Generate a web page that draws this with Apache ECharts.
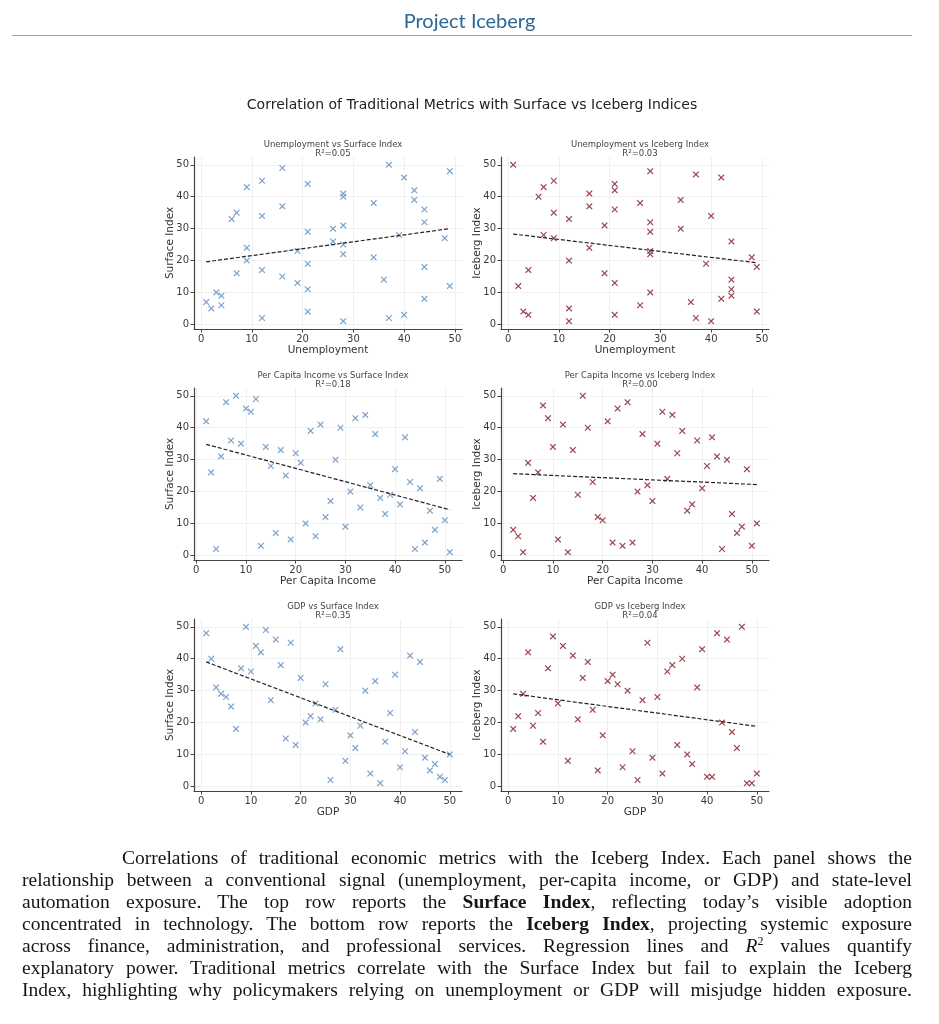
<!DOCTYPE html>
<html>
<head>
<meta charset="utf-8">
<script src="https://cdn.jsdelivr.net/npm/echarts@6/dist/echarts.min.js"></script>
<style>
  html, body { margin: 0; padding: 0; background: #fff; }
  body { width: 939px; height: 1024px; position: relative; overflow: hidden; }
  #chart { position: absolute; left: 0; top: 0; width: 939px; height: 1024px; }
  #header { position: absolute; left: 0; top: 6px; width: 939px; text-align: center;
            font-family: "Lato", "Open Sans", sans-serif; font-size: 20px; color: #2c6795; line-height: 28px; }
  #rule { position: absolute; left: 12px; top: 35px; width: 900px; height: 0; border-top: 1.5px solid #8ea3b6; }
  #caption { position: absolute; left: 22px; top: 847px; width: 890px;
             font-family: "Liberation Serif", "Times New Roman", serif; font-size: 19.5px; line-height: 22px; color: #151515; }
  #caption div { text-align: justify; text-align-last: justify; white-space: nowrap; height: 22px; }
  #caption div.indent { padding-left: 100px; }
  #caption sup { font-size: 12px; line-height: 0; vertical-align: 7px; }
</style>
</head>
<body>
<div id="chart"></div>
<div id="header">Project Iceberg</div>
<div id="rule"></div>
<div id="caption">
  <div class="indent">Correlations of traditional economic metrics with the Iceberg Index. Each panel shows the</div>
  <div>relationship between a conventional signal (unemployment, per-capita income, or GDP) and state-level</div>
  <div>automation exposure. The top row reports the <b>Surface Index</b>, reflecting today’s visible adoption</div>
  <div>concentrated in technology. The bottom row reports the <b>Iceberg Index</b>, projecting systemic exposure</div>
  <div>across finance, administration, and professional services. Regression lines and <i>R</i><sup>2</sup> values quantify</div>
  <div>explanatory power. Traditional metrics correlate with the Surface Index but fail to explain the Iceberg</div>
  <div>Index, highlighting why policymakers relying on unemployment or GDP will misjudge hidden exposure.</div>
</div>
<script>
// ---------------- DATA ----------------
const mainTitle = 'Correlation of Traditional Metrics with Surface vs Iceberg Indices';
const tickValues = [0, 10, 20, 30, 40, 50];

const unemploymentX = [1,2,3,4,4,6,7,7,9,9,9,12,12,12,12,16,16,16,19,19,21,21,21,21,21,26,26,28,28,28,28,28,28,34,34,36,37,37,39,40,40,42,42,44,44,44,44,48,49,49];
const unemploymentSurface = [7,5,10,9,6,33,35,16,43,24,20,45,34,17,2,49,37,15,23,13,44,29,19,11,4,30,26,41,40,31,25,22,1,38,21,14,50,2,28,46,3,42,39,36,32,18,8,27,48,12];
const unemploymentIceberg = [50,12,4,3,17,40,43,28,45,35,27,33,20,5,1,41,37,24,31,16,44,42,36,13,3,38,6,48,32,29,23,22,10,39,30,7,47,2,19,34,1,46,8,26,14,11,9,21,18,4];

const incomeX = [2,3,4,5,6,7,8,9,10,11,12,13,14,15,16,17,18,19,20,21,22,23,24,25,26,27,28,29,30,31,32,33,34,35,36,37,38,39,40,41,42,43,44,45,46,47,48,49,50,51];
const incomeSurface = [42,26,2,31,48,36,50,35,46,45,49,3,34,28,7,33,25,5,32,29,10,39,6,41,12,17,30,40,9,20,43,15,44,22,38,18,13,19,27,16,37,23,2,21,4,14,8,24,11,1];
const incomeIceberg = [8,6,1,29,18,26,47,43,34,5,41,1,33,19,50,40,23,12,11,42,4,46,3,48,4,20,38,22,17,35,45,24,44,32,39,14,16,36,21,28,37,31,2,30,13,7,9,27,3,10];

const gdpX = [1,2,3,4,5,6,7,8,9,10,11,12,13,14,15,16,17,18,19,20,21,22,23,24,25,26,27,28,29,30,31,32,33,34,35,36,37,38,39,40,41,42,43,44,45,46,47,48,49,50];
const gdpSurface = [48,40,31,29,28,25,18,37,50,36,44,42,49,27,46,38,15,45,13,34,20,22,26,21,32,2,24,43,8,16,12,19,30,4,33,1,14,23,35,6,11,41,17,39,9,5,7,3,2,10];
const gdpIceberg = [18,22,29,42,19,23,14,37,47,26,44,8,41,21,34,39,24,5,16,33,35,32,6,30,11,2,27,45,9,28,4,36,38,13,40,10,7,31,43,3,3,48,20,46,17,12,50,1,1,4];

// regression line end points
const trendUnempSurface = [[1, 19.6], [49, 30.0]];
const trendUnempIceberg = [[1, 28.3], [49, 19.3]];
const trendIncomeSurface = [[2, 34.8], [51, 14.3]];
const trendIncomeIceberg = [[2, 25.6], [51, 22.2]];
const trendGdpSurface = [[1, 39.0], [50, 10.0]];
const trendGdpIceberg = [[1, 29.0], [50, 18.8]];

const panelTitles = ['Unemployment vs Surface Index', 'Unemployment vs Iceberg Index',
                     'Per Capita Income vs Surface Index', 'Per Capita Income vs Iceberg Index',
                     'GDP vs Surface Index', 'GDP vs Iceberg Index'];
const rSquared = ['R²=0.05', 'R²=0.03', 'R²=0.18', 'R²=0.00', 'R²=0.35', 'R²=0.04'];
const xNames = ['Unemployment', 'Unemployment', 'Per Capita Income', 'Per Capita Income', 'GDP', 'GDP'];
const yNames = ['Surface Index', 'Iceberg Index', 'Surface Index', 'Iceberg Index', 'Surface Index', 'Iceberg Index'];

// ---------------- LAYOUT / STYLE ----------------
const panels = [
  { xs: unemploymentX, ys: unemploymentSurface, trend: trendUnempSurface, xr: [-1.4, 51.4], color: '#769cc6' },
  { xs: unemploymentX, ys: unemploymentIceberg, trend: trendUnempIceberg, xr: [-1.4, 51.4], color: '#983c48' },
  { xs: incomeX, ys: incomeSurface, trend: trendIncomeSurface, xr: [-0.45, 53.45], color: '#769cc6' },
  { xs: incomeX, ys: incomeIceberg, trend: trendIncomeIceberg, xr: [-0.45, 53.45], color: '#983c48' },
  { xs: gdpX, ys: gdpSurface, trend: trendGdpSurface, xr: [-1.45, 52.45], color: '#769cc6' },
  { xs: gdpX, ys: gdpIceberg, trend: trendGdpIceberg, xr: [-1.45, 52.45], color: '#983c48' }
];
const colLeft = [194, 501];
const colWidth = 268;
const rowTop = [157, 388, 619];
const rowHeight = 172;
const yRange = [-1.45, 52.45];
const FONT = '"DejaVu Sans", sans-serif';
const XMARK = 'path://M0,1.3L1.3,0L5,3.7L8.7,0L10,1.3L6.3,5L10,8.7L8.7,10L5,6.3L1.3,10L0,8.7L3.7,5Z';

const grids = [], xAxes = [], yAxes = [], series = [], titles = [];
titles.push({ text: mainTitle, left: 467, top: 93, textAlign: 'center',
  textStyle: { fontFamily: FONT, fontSize: 14, fontWeight: 'normal', color: '#222' } });

panels.forEach((p, i) => {
  const row = Math.floor(i / 2), col = i % 2;
  const left = colLeft[col], top = rowTop[row];
  grids.push({ left: left, top: top, width: colWidth, height: rowHeight, containLabel: false });
  const axisCommon = {
    axisLine: { show: true, onZero: false, lineStyle: { color: '#444', width: 1.2 } },
    axisTick: { show: true, inside: false, length: 3.5, customValues: tickValues, lineStyle: { color: '#444', width: 1 } },
    axisLabel: { customValues: tickValues, fontFamily: FONT, fontSize: 10, color: '#3a3a3a', margin: 5 },
    splitLine: { show: true, lineStyle: { color: '#ececec', width: 0.8 } },
    nameLocation: 'middle',
    nameMoveOverlap: false,
    nameTextStyle: { fontFamily: FONT, fontSize: 10.5, color: '#333' }
  };
  xAxes.push(Object.assign({}, axisCommon, {
    type: 'value', gridIndex: i, min: p.xr[0], max: p.xr[1],
    name: xNames[i], nameGap: 16
  }));
  yAxes.push(Object.assign({}, axisCommon, {
    type: 'value', gridIndex: i, min: yRange[0], max: yRange[1],
    name: yNames[i], nameGap: 18
  }));
  series.push({
    type: 'scatter', xAxisIndex: i, yAxisIndex: i,
    data: p.xs.map((x, k) => [x, p.ys[k]]),
    symbol: XMARK, symbolSize: 6.5,
    itemStyle: { color: p.color, opacity: 0.95 },
    emphasis: { disabled: true }, silent: true, z: 3
  });
  series.push({
    type: 'line', xAxisIndex: i, yAxisIndex: i,
    data: p.trend, showSymbol: false, symbol: 'none',
    lineStyle: { color: '#222', width: 1.2, type: [4, 2] },
    silent: true, z: 4
  });
  titles.push({
    text: panelTitles[i] + '\n' + rSquared[i],
    left: left + colWidth / 2, top: top - 22, textAlign: 'center',
    textStyle: { fontFamily: FONT, fontSize: 8.5, lineHeight: 9.5, fontWeight: 'normal', color: '#444' }
  });
});

const chart = echarts.init(document.getElementById('chart'), null, { renderer: 'canvas' });
chart.setOption({
  animation: false,
  backgroundColor: 'transparent',
  title: titles,
  grid: grids,
  xAxis: xAxes,
  yAxis: yAxes,
  series: series
});
</script>
</body>
</html>
